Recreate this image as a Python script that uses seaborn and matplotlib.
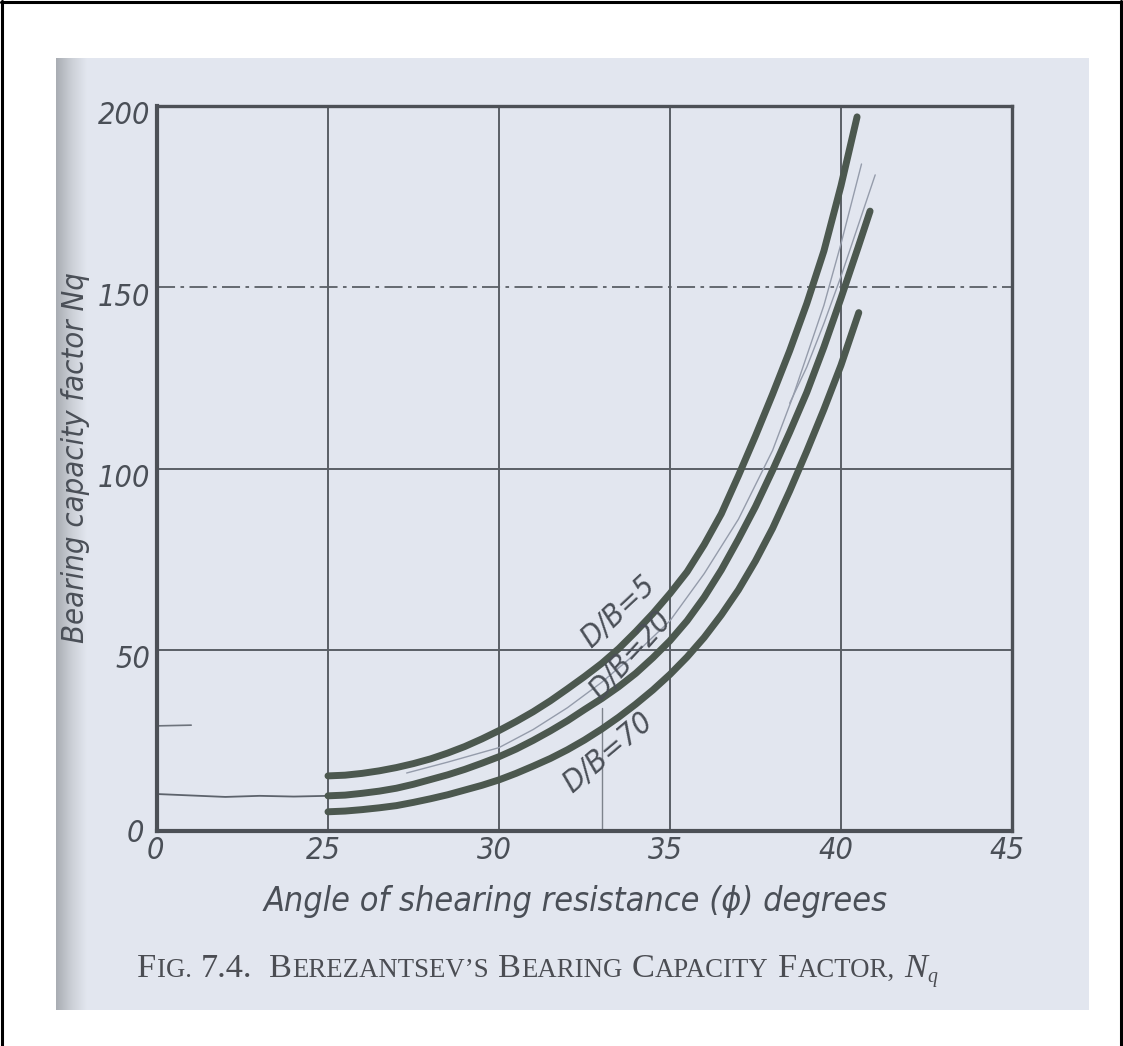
import numpy as np
import pandas as pd
import matplotlib
matplotlib.use("Agg")
import matplotlib.pyplot as plt
import seaborn as sns
from matplotlib import font_manager
from matplotlib.transforms import ScaledTranslation
from matplotlib.lines import Line2D
from matplotlib.patches import Rectangle
from matplotlib.colors import LinearSegmentedColormap

# ---------------- data ----------------
phi_db5 = [25, 25.5, 26, 26.5, 27, 27.5, 28, 28.5, 29, 29.5, 30, 30.5, 31, 31.5, 32, 32.5, 33, 33.5,
           34, 34.5, 35, 35.5, 36, 36.5, 37, 37.5, 38, 38.5, 39, 39.5, 40, 40.47]
nq_db5 = [15.2, 15.4, 15.9, 16.6, 17.5, 18.6, 19.9, 21.5, 23.3, 25.4, 27.7, 30.2, 32.9, 35.9, 39.2, 42.6,
          46.2, 50.3, 55.0, 60.0, 65.5, 71.5, 79.0, 87.5, 98.0, 109.0, 120.5, 132.5, 145.5, 160.0, 178.0, 197.0]

phi_db20 = [25, 25.5, 26, 26.5, 27, 27.5, 28, 28.5, 29, 29.5, 30, 30.5, 31, 31.5, 32, 32.5, 33, 33.5,
            34, 34.5, 35, 35.5, 36, 36.5, 37, 37.5, 38, 38.5, 39, 39.5, 40, 40.5, 40.85]
nq_db20 = [9.7, 9.9, 10.4, 11.0, 11.8, 12.9, 14.2, 15.5, 17.0, 18.7, 20.5, 22.6, 25.0, 27.6, 30.4, 33.5,
           36.5, 39.8, 43.5, 47.8, 52.5, 58.0, 64.5, 72.0, 80.5, 89.5, 99.5, 110.0, 121.0, 133.5, 147.0,
           161.0, 171.0]

phi_db70 = [25, 25.5, 26, 26.5, 27, 27.5, 28, 28.5, 29, 29.5, 30, 30.5, 31, 31.5, 32, 32.5, 33, 33.5,
            34, 34.5, 35, 35.5, 36, 36.5, 37, 37.5, 38, 38.5, 39, 39.5, 40, 40.52]
nq_db70 = [5.3, 5.5, 5.9, 6.4, 7.0, 7.9, 8.9, 10.0, 11.3, 12.6, 14.1, 15.9, 17.9, 20.0, 22.4, 25.1, 28.1,
           31.4, 35.0, 38.9, 43.2, 48.0, 53.4, 59.6, 66.5, 74.5, 83.5, 93.8, 104.8, 116.3, 128.5, 143.0]

series_names = ["D/B=5", "D/B=20", "D/B=70"]
label_phi = [33.5, 33.85, 33.2]
label_nq = [60.5, 48.5, 21.5]
label_rot = [43, 48, 40]

# faint pencil traces on the scanned sheet
pencil1_phi = [27.3, 28.5, 30, 31, 32, 33, 34, 35, 36, 37, 38, 38.6, 39.5, 40.0, 40.6]
pencil1_nq = [16.0, 19.0, 23.0, 28.0, 34.0, 41.0, 49.0, 58.0, 71.0, 86.0, 105.0, 120.0, 145.0, 162.0, 184.0]
pencil2_phi = [38.5, 39.0, 39.5, 40.0, 40.5, 41.0]
pencil2_nq = [118, 128, 140, 153, 167, 181]
pencil3_phi = [0, 5, 10, 15, 20, 25]
pencil3_nq = [10.2, 9.8, 9.4, 9.7, 9.5, 9.7]
pencil4_phi = [0, 5]
pencil4_nq = [29, 29.2]
pencil5_phi = [33.0, 33.0]
pencil5_nq = [0, 34]

x_ticks = [0, 25, 30, 35, 40, 45]
y_ticks = [0, 50, 100, 150, 200]
x_label = "Angle of shearing resistance (ϕ) degrees"
y_label = "Bearing capacity factor Nq"

# ---------------- style ----------------
sns.set_style("white")
cands = [f for f in font_manager.fontManager.ttflist
         if ('condensed' in str(f.stretch).lower() or 'Condensed' in f.name or 'Narrow' in f.name)
         and 'Mono' not in f.name and 'Serif' not in f.name]
if cands:
    hand = cands[0].name
    stretch = 'condensed'
else:
    hand = 'Liberation Sans'
    stretch = 'normal'
plt.rcParams['font.family'] = [hand, 'DejaVu Sans']

W, H = 1123, 1046
fig = plt.figure(figsize=(W / 100, H / 100), dpi=100)
fig.patch.set_facecolor('white')
renderer = fig.canvas.get_renderer()


def fx(px):
    return px / W


def fy(py):
    return 1 - py / H


def measure(s, size, **kw):
    t = fig.text(0, 0, s, fontsize=size, **kw)
    w = t.get_window_extent(renderer).width
    t.remove()
    return w


def fit(s, target, lo, hi, **kw):
    w = measure(s, 20, **kw)
    return float(np.clip(20 * target / w, lo, hi))


hk = dict(style='italic', fontstretch=stretch, family=[hand, 'DejaVu Sans'])

bg = "#e2e6ef"
txt = "#4a4f57"
frame = "#4c5056"
gridc = "#5a5f66"
curve = "#4c584f"
pencil = "#959cab"

# scanned sheet
fig.add_artist(Rectangle((fx(56), fy(1010)), fx(1089) - fx(56), fy(58) - fy(1010),
                         transform=fig.transFigure, facecolor=bg, edgecolor='none', zorder=0))
sh = fig.add_axes([fx(56), fy(1010), fx(30), fy(58) - fy(1010)], zorder=0.5)
cmap = LinearSegmentedColormap.from_list("shadow", ["#a9adb3", "#cbcfd6", bg])
sh.imshow(np.linspace(0, 1, 64)[None, :], aspect='auto', cmap=cmap, extent=(0, 1, 0, 1))
sh.axis('off')

# outer border
for (x0, y0, x1, y1) in [(2, 1, 2, 1046), (1, 2, 1122, 2), (1121, 1, 1121, 1046)]:
    fig.add_artist(Line2D([fx(x0), fx(x1)], [fy(y0), fy(y1)], transform=fig.transFigure,
                          color='black', lw=2.2, zorder=5))

# ---------------- main axes ----------------
ax = fig.add_axes([fx(157), fy(831), fx(1012) - fx(157), fy(106) - fy(831)], zorder=2)
ax.set_facecolor('none')


def fwd(x):
    x = np.asarray(x, dtype=float)
    return np.where(x < 25, x / 25.0, (x - 20.0) / 5.0)


def inv(p):
    p = np.asarray(p, dtype=float)
    return np.where(p < 1, p * 25.0, p * 5.0 + 20.0)


ax.set_xscale('function', functions=(fwd, inv))
ax.set_xlim(0, 45)
ax.set_ylim(0, 200)

for v in [25, 30, 35, 40]:
    ax.axvline(v, color=gridc, lw=1.4, zorder=1)
for v in [50, 100]:
    ax.axhline(v, color=gridc, lw=1.4, zorder=1)
ax.axhline(150, color=gridc, lw=1.3, ls=(0, (10, 3, 2, 3)), zorder=1)

df = pd.DataFrame({
    "phi": phi_db5 + phi_db20 + phi_db70,
    "Nq": nq_db5 + nq_db20 + nq_db70,
    "series": [series_names[0]] * len(phi_db5) + [series_names[1]] * len(phi_db20)
              + [series_names[2]] * len(phi_db70),
})
sns.lineplot(data=df, x="phi", y="Nq", hue="series", palette=[curve] * 3, estimator=None,
             lw=5, legend=False, ax=ax, zorder=4, solid_capstyle='round', solid_joinstyle='round')

pen = pd.DataFrame({
    "phi": pencil1_phi + pencil2_phi,
    "Nq": pencil1_nq + pencil2_nq,
    "trace": ["a"] * len(pencil1_phi) + ["b"] * len(pencil2_phi),
})
sns.lineplot(data=pen, x="phi", y="Nq", hue="trace", palette=[pencil] * 2, estimator=None,
             lw=1.0, legend=False, ax=ax, zorder=3)
sns.lineplot(x=pencil3_phi, y=pencil3_nq, color="#5d636c", lw=1.3, ax=ax, zorder=3, estimator=None)
sns.lineplot(x=pencil4_phi, y=pencil4_nq, color="#6d737c", lw=1.2, ax=ax, zorder=3, estimator=None)
sns.lineplot(x=pencil5_phi, y=pencil5_nq, color="#7d838c", lw=1.0, ax=ax, zorder=3, estimator=None)

lab_size = fit("D/B=5", 90, 14, 26, **hk)
for name, px_, py_, rot in zip(series_names, label_phi, label_nq, label_rot):
    ax.text(px_, py_, name, rotation=rot, rotation_mode='anchor', ha='center', va='center',
            fontsize=lab_size, color=txt, zorder=5, **hk)

for side in ['left', 'bottom']:
    ax.spines[side].set_linewidth(3.0)
for side in ['top', 'right']:
    ax.spines[side].set_linewidth(2.4)
for s in ax.spines.values():
    s.set_color(frame)
    s.set_zorder(6)

tick_size = 22
ax.set_xticks(x_ticks)
ax.set_xticklabels([str(v) for v in x_ticks])
ax.set_yticks(y_ticks)
ax.set_yticklabels([str(v) for v in y_ticks])
ax.tick_params(length=0, pad=5, labelsize=tick_size, labelcolor=txt)
for lab in ax.get_xticklabels() + ax.get_yticklabels():
    lab.set_style('italic')
    lab.set_fontstretch(stretch)
for i, lab in enumerate(ax.get_xticklabels()):
    dx = -0.02 if i == 0 else -0.05
    lab.set_transform(lab.get_transform() + ScaledTranslation(dx, 0.02, fig.dpi_scale_trans))
for i, lab in enumerate(ax.get_yticklabels()):
    dy = 0.0 if i == 0 else -0.07
    dx = -0.06 if i == 0 else 0.0
    lab.set_transform(lab.get_transform() + ScaledTranslation(dx, dy, fig.dpi_scale_trans))
ax.set_xlabel("")
ax.set_ylabel("")
ax.grid(False)

xl_size = fit(x_label, 622, 16, 27, **hk)
yl_size = fit(y_label, 370, 14, 26, **hk)
fig.text(fx(576), fy(902), x_label, ha='center', va='center', fontsize=xl_size, color=txt, **hk)
fig.text(fx(76), fy(458), y_label, ha='center', va='center', fontsize=yl_size, color=txt,
         rotation=90, **hk)

# ---------------- caption in small caps ----------------
serif = ['Liberation Serif', 'DejaVu Serif']
segs = [("F", 1.0, 0, 'normal', 0), ("IG.", 0.78, 0.06, 'normal', 0), ("7.4.", 1.0, 1, 'normal', 0),
        ("B", 1.0, 1.8, 'normal', 0), ("EREZANTSEV’S", 0.78, 0.06, 'normal', 0),
        ("B", 1.0, 1, 'normal', 0), ("EARING", 0.78, 0.06, 'normal', 0),
        ("C", 1.0, 1, 'normal', 0), ("APACITY", 0.78, 0.06, 'normal', 0),
        ("F", 1.0, 1, 'normal', 0), ("ACTOR,", 0.78, 0.06, 'normal', 0),
        ("N", 1.0, 1, 'italic', 0), ("q", 0.58, 0.05, 'italic', -0.22)]


def caption_width(base):
    tot = 0.0
    for s, f, g, st, dy in segs:
        tot += g * base * 0.37 + measure(s, base * f, family=serif, style=st)
    return tot


base = 20.0
base = base * 800.0 / caption_width(base)
xcur = 137.0
baseline = 977.0
for s, f, g, st, dy in segs:
    xcur += g * base * 0.37
    t = fig.text(fx(xcur), fy(baseline - dy * base), s, fontsize=base * f, family=serif,
                 style=st, color="#4b4d53", ha='left', va='baseline')
    xcur = t.get_window_extent(renderer).x1

fig.savefig("out.png", dpi=100, facecolor='white')
